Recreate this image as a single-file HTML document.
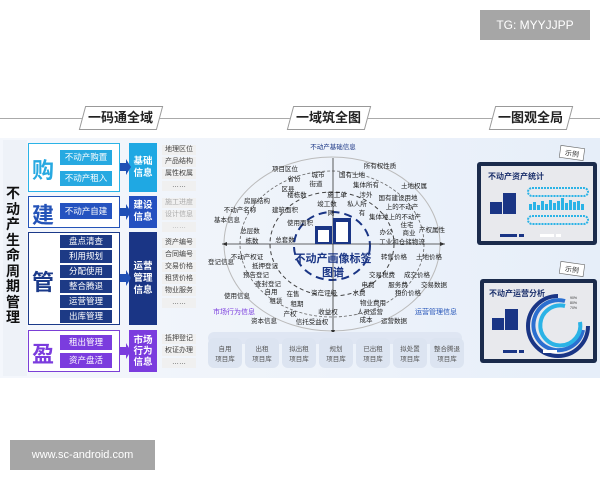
<!DOCTYPE html>
<html><head><meta charset="utf-8"><style>
*{margin:0;padding:0;box-sizing:border-box}
body{width:600px;height:480px;background:#fff;position:relative;overflow:hidden;font-family:"Liberation Sans","Noto Sans CJK SC",sans-serif}
.a{position:absolute}
.btn{position:absolute;left:60px;width:52px;color:#fff;font-size:8.5px;text-align:center;line-height:13px;height:13px}
.info{position:absolute;left:129px;width:28px;color:#fff;font-size:9.5px;font-weight:bold;display:flex;align-items:center;justify-content:center;text-align:center;line-height:12px}
.lab{position:absolute;left:162px;width:34px;font-size:7px;color:#444;background:#f0f0f0;text-align:center;line-height:10px;height:10px}
.big{position:absolute;left:32px;font-size:22px;font-weight:bold}
.hd{position:absolute;top:106px;height:24px;background:#fff;border:1px solid #999;transform:skewX(-15deg);font-size:13px;font-weight:bold;color:#222;text-align:center;line-height:22px}
.hd span{display:inline-block;transform:skewX(15deg)}
</style></head><body>
<div class="a" style="left:480px;top:10px;width:110px;height:30px;background:#a6a6a6;color:#fff;font-size:12px;line-height:30px;text-align:center">TG: MYYJJPP</div>
<div class="a" style="left:10px;top:440px;width:145px;height:30px;background:#a6a6a6;color:#fff;font-size:11px;line-height:30px;text-align:center">www.sc-android.com</div>

<div class="a" style="left:0;top:138px;width:600px;height:240px;background:linear-gradient(90deg,#f4f7fc,#eef3fa 50%,#e6eef9)"></div>
<div class="a" style="left:0;top:118px;width:600px;height:1px;background:#aaa"></div>
<div class="hd" style="left:82px;width:78px"><span>一码通全域</span></div>
<div class="hd" style="left:290px;width:78px"><span>一域筑全图</span></div>
<div class="hd" style="left:492px;width:78px"><span>一图观全局</span></div>

<!-- left -->
<div class="a" style="left:3px;top:140px;width:24px;height:236px;background:#eef2f8"></div>
<div class="a" style="left:6px;top:186px;width:16px;font-size:14px;font-weight:bold;line-height:15.5px;color:#111">不动产生命周期管理</div>

<div class="a" style="left:28px;top:143px;width:92px;height:49px;border:1.5px solid #2bb3e6;background:#fff"></div>
<div class="big" style="top:153px;color:#27a9e1">购</div>
<div class="btn" style="top:150px;background:#27a9e1;height:15px;line-height:15px">不动产购置</div>
<div class="btn" style="top:171px;background:#27a9e1;height:15px;line-height:15px">不动产租入</div>
<div class="info" style="top:143px;height:49px;background:#1fa8e3">基础<br>信息</div>

<div class="a" style="left:28px;top:196px;width:92px;height:32px;border:1.5px solid #2453b8;background:#fff"></div>
<div class="big" style="top:198px;color:#2453b8">建</div>
<div class="btn" style="top:203px;background:#2553c0;height:16px;line-height:16px">不动产自建</div>
<div class="info" style="top:196px;height:32px;background:#2450c0">建设<br>信息</div>

<div class="a" style="left:28px;top:232px;width:92px;height:93px;border:1.5px solid #1b3a8a;background:#fff"></div>
<div class="big" style="top:265px;color:#1b3a8a">管</div>
<div class="btn" style="top:235px;background:#1d3a85">盘点清查</div>
<div class="btn" style="top:250px;background:#1d3a85">利用规划</div>
<div class="btn" style="top:265px;background:#1d3a85">分配使用</div>
<div class="btn" style="top:280px;background:#1d3a85">整合腾退</div>
<div class="btn" style="top:295px;background:#1d3a85">运营管理</div>
<div class="btn" style="top:310px;background:#1d3a85">出库管理</div>
<div class="info" style="top:232px;height:93px;background:#1a3585">运营<br>管理<br>信息</div>

<div class="a" style="left:28px;top:330px;width:92px;height:42px;border:1.5px solid #7b3fd6;background:#fff"></div>
<div class="big" style="top:337px;color:#7b3cde">盈</div>
<div class="btn" style="top:335px;background:#7b3cde;height:15px;line-height:15px">租出管理</div>
<div class="btn" style="top:353px;background:#7b3cde;height:15px;line-height:15px">资产盘活</div>
<div class="info" style="top:330px;height:42px;background:#7b3cde;line-height:11px">市场<br>行为<br>信息</div>

<svg class="a" style="left:0;top:0" width="600" height="480">
<g fill="#1f4fb5"><polygon points="120,163 126,163 126,159 131,167 126,175 126,171 120,171"/><polygon points="120,208 126,208 126,204 131,212 126,220 126,216 120,216" /><polygon points="120,274 126,274 126,270 131,278 126,286 126,282 120,282"/><polygon fill="#7b3cde" points="120,347 126,347 126,343 131,351 126,359 126,355 120,355"/></g>
</svg>
<div class="lab" style="top:145px">地理区位</div><div class="lab" style="top:157px">产品结构</div><div class="lab" style="top:169px">属性权属</div><div class="lab" style="top:181px">……</div>
<div class="lab" style="top:198px;color:#aaa">施工进度</div><div class="lab" style="top:210px;color:#aaa">设计信息</div><div class="lab" style="top:222px;color:#aaa">……</div>
<div class="lab" style="top:238px">资产编号</div><div class="lab" style="top:250px">合同编号</div><div class="lab" style="top:262px">交易价格</div><div class="lab" style="top:274px">租赁价格</div><div class="lab" style="top:286px">物业服务</div><div class="lab" style="top:298px">……</div>
<div class="lab" style="top:334px">抵押登记</div><div class="lab" style="top:346px">权证办理</div><div class="lab" style="top:358px">……</div>

<!-- center -->
<svg class="a" style="left:0;top:0" width="600" height="480" font-family="Liberation Sans,Noto Sans CJK SC,sans-serif">
<ellipse cx="332" cy="244" rx="108" ry="87" fill="none" stroke="#bbb"/>
<ellipse cx="332" cy="244" rx="92" ry="73" fill="none" stroke="#666" stroke-dasharray="3,2" stroke-width="0.8"/>
<ellipse cx="332" cy="244" rx="62" ry="52" fill="none" stroke="#444" stroke-dasharray="4,3"/>
<ellipse cx="332" cy="246" rx="38" ry="34" fill="none" stroke="#1a3585" stroke-width="2" stroke-dasharray="8,5"/>
<line x1="222" y1="244" x2="445" y2="244" stroke="#333" stroke-width="0.8"/>
<line x1="333" y1="158" x2="333" y2="335" stroke="#333" stroke-width="0.8"/>
<polygon points="222,244 227,242 227,246" fill="#333"/><polygon points="445,244 440,242 440,246" fill="#333"/><polygon points="333,335 331,330 335,330" fill="#333"/>
<g fill="#1a3585"><rect x="315" y="226" width="17" height="18"/><rect x="333" y="218" width="18" height="26"/></g>
<g fill="#fff"><rect x="318" y="230" width="11" height="12"/><rect x="336" y="222" width="12" height="20"/></g>
<text x="333" y="262" font-size="11" font-weight="bold" fill="#1a3585" text-anchor="middle">不动产画像标签</text>
<text x="333" y="276" font-size="11" font-weight="bold" fill="#1a3585" text-anchor="middle">图谱</text>
<g font-size="6.5" fill="#222" text-anchor="middle">
<text x="333" y="149" fill="#1a3585">不动产基础信息</text>
<text x="285" y="171">项目区位</text><text x="380" y="168">所有权性质</text>
<text x="294" y="181">省份</text><text x="318" y="177">城市</text><text x="352" y="177">国有土地</text>
<text x="288" y="191">区县</text><text x="316" y="186">街道</text><text x="366" y="187">集体所有</text><text x="414" y="188">土地权属</text>
<text x="257" y="203">房屋结构</text><text x="297" y="197">楼栋数</text><text x="337" y="197">施工单</text><text x="366" y="197">涉外</text>
<text x="327" y="206">竣工数</text><text x="357" y="206">私人所</text><text x="398" y="200">国有建设用地</text>
<text x="402" y="209">上的不动产</text><text x="240" y="212">不动产名称</text><text x="285" y="212">建筑面积</text><text x="331" y="215">网</text><text x="362" y="215">有</text>
<text x="227" y="222">基本信息</text><text x="395" y="219">集体地上的不动产</text>
<text x="300" y="225">使用面积</text><text x="407" y="227">住宅</text>
<text x="250" y="233">总层数</text><text x="386" y="234">办公</text><text x="409" y="235">商业</text><text x="432" y="232">产权属性</text>
<text x="252" y="243">栋数</text><text x="285" y="242">总套数</text><text x="402" y="244">工业和仓储物流</text>
<text x="247" y="259">不动产权证</text><text x="394" y="259">转售价格</text><text x="429" y="259">土地价格</text>
<text x="221" y="264">登记信息</text><text x="265" y="268">抵押登记</text>
<text x="256" y="277">预告登记</text><text x="382" y="277">交易税费</text><text x="417" y="277">成交价格</text>
<text x="268" y="286">查封登记</text><text x="368" y="287">电费</text><text x="398" y="287">服务费</text><text x="434" y="287">交易数据</text>
<text x="271" y="294">自用</text><text x="293" y="296">在售</text><text x="324" y="295">资产评级</text><text x="359" y="295">水费</text><text x="408" y="295">租价价格</text>
<text x="237" y="298">使用信息</text><text x="276" y="303">租赁</text><text x="297" y="306">租期</text><text x="373" y="305">物业费用</text>
<text x="290" y="316">产权</text><text x="328" y="314">收益权</text><text x="370" y="314">人员运营</text>
<text x="264" y="323">资本信息</text><text x="312" y="324">信托受益权</text><text x="366" y="322">成本</text><text x="394" y="323">运营数据</text>
</g>
<text x="234" y="314" font-size="7" fill="#7b3cde" text-anchor="middle">市场行为信息</text>
<text x="436" y="314" font-size="7" fill="#2453b8" text-anchor="middle">运营管理信息</text>
<rect x="208" y="332" width="254" height="12" rx="6" fill="#dfe6f3"/>
<g font-size="6.5" fill="#555" text-anchor="middle">
<g><rect x="208" y="338" width="34" height="30" rx="6" fill="#dce4f1"/><text x="225" y="351">自用</text><text x="225" y="361">项目库</text></g>
<g><rect x="245" y="338" width="34" height="30" rx="6" fill="#dce4f1"/><text x="262" y="351">出租</text><text x="262" y="361">项目库</text></g>
<g><rect x="282" y="338" width="34" height="30" rx="6" fill="#dce4f1"/><text x="299" y="351">拟出租</text><text x="299" y="361">项目库</text></g>
<g><rect x="319" y="338" width="34" height="30" rx="6" fill="#dce4f1"/><text x="336" y="351">规划</text><text x="336" y="361">项目库</text></g>
<g><rect x="356" y="338" width="34" height="30" rx="6" fill="#dce4f1"/><text x="373" y="351">已出租</text><text x="373" y="361">项目库</text></g>
<g><rect x="393" y="338" width="34" height="30" rx="6" fill="#dce4f1"/><text x="410" y="351">拟处置</text><text x="410" y="361">项目库</text></g>
<g><rect x="430" y="338" width="34" height="30" rx="6" fill="#dce4f1"/><text x="447" y="351">整合腾退</text><text x="447" y="361">项目库</text></g>
</g>

<!-- right -->
<g transform="rotate(8 572 153)"><rect x="560" y="147" width="24" height="12" fill="#fff" stroke="#666" stroke-width="0.6"/><text x="572" y="156" font-size="7" fill="#333" text-anchor="middle">示例</text></g>
<rect x="477" y="162" width="120" height="83" rx="3" fill="#1b2b4c"/>
<rect x="481" y="166" width="112" height="75" fill="#e8e9ed"/>
<text x="488" y="179" font-size="8" font-weight="bold" fill="#1a2f6b">不动产资产统计</text>
<g fill="#1a3585"><rect x="490" y="202" width="12" height="12"/><rect x="503" y="193" width="13" height="21"/></g>
<rect x="528" y="188" width="60" height="8" rx="4" fill="none" stroke="#2bb3e6" stroke-width="2" stroke-dasharray="2,1"/>
<rect x="528" y="216" width="60" height="8" rx="4" fill="none" stroke="#2bb3e6" stroke-width="2" stroke-dasharray="2,1"/>
<g fill="#2bb3e6"><rect x="529" y="204" width="3" height="6"/><rect x="533" y="202" width="3" height="8"/><rect x="537" y="205" width="3" height="5"/><rect x="541" y="201" width="3" height="9"/><rect x="545" y="204" width="3" height="6"/><rect x="549" y="200" width="3" height="10"/><rect x="553" y="203" width="3" height="7"/><rect x="557" y="201" width="3" height="9"/><rect x="561" y="198" width="3" height="12"/><rect x="565" y="203" width="3" height="7"/><rect x="569" y="200" width="3" height="10"/><rect x="573" y="202" width="3" height="8"/><rect x="577" y="201" width="3" height="9"/><rect x="581" y="204" width="3" height="6"/></g>
<rect x="500" y="234" width="17" height="3" fill="#1a3585"/><rect x="519" y="234" width="5" height="3" fill="#1a3585"/><rect x="540" y="234" width="14" height="3" fill="#fff"/><rect x="556" y="234" width="5" height="3" fill="#fff"/>

<g transform="rotate(8 572 269)"><rect x="560" y="263" width="24" height="12" fill="#fff" stroke="#666" stroke-width="0.6"/><text x="572" y="272" font-size="7" fill="#333" text-anchor="middle">示例</text></g>
<rect x="480" y="279" width="117" height="84" rx="3" fill="#1b2b4c"/>
<rect x="484" y="283" width="109" height="76" fill="#e8e9ed"/>
<text x="489" y="296" font-size="8" font-weight="bold" fill="#1a2f6b">不动产运营分析</text>
<g fill="#1a3585"><rect x="492" y="318" width="12" height="12"/><rect x="505" y="309" width="13" height="21"/></g>
<path d="M565 296 A30 30 0 1 0 595 326" fill="none" stroke="#1a3585" stroke-width="4" transform="translate(-7,0)"/>
<path d="M565 301 A25 25 0 1 0 583 330" fill="none" stroke="#2b6fd0" stroke-width="4"/>
<path d="M565 306 A20 20 0 1 0 580 322" fill="none" stroke="#2bb3e6" stroke-width="4"/>
<g font-size="3.5" fill="#333"><text x="570" y="299">90%</text><text x="570" y="304">80%</text><text x="570" y="309">70%</text></g>
<rect x="503" y="350" width="14" height="3" fill="#1a3585"/><rect x="519" y="350" width="5" height="3" fill="#1a3585"/><rect x="543" y="350" width="14" height="3" fill="#fff"/>
</svg>
</body></html>
